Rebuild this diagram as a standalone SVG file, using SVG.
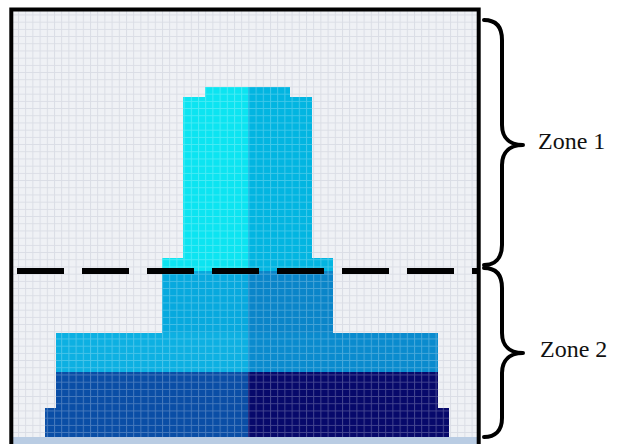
<svg xmlns="http://www.w3.org/2000/svg" width="621" height="444" viewBox="0 0 621 444">
  <defs>
    <pattern id="gridBg" width="7.2" height="7.2" patternUnits="userSpaceOnUse" x="162" y="86.5">
      <path d="M0 0.5H7.2M0.5 0V7.2" stroke="#dadde5" stroke-width="1" fill="none"/>
    </pattern>
    <pattern id="gridFg" width="7.2" height="7.2" patternUnits="userSpaceOnUse" x="162" y="86.5">
      <path d="M0 0.5H7.2M0.5 0V7.2" stroke="#ffffff" stroke-opacity="0.25" stroke-width="1" fill="none"/>
    </pattern>
    <clipPath id="towerClip">
      <rect x="205" y="87" width="85" height="10"/>
      <rect x="183" y="97" width="129" height="161"/>
      <rect x="162" y="258" width="171" height="75"/>
      <rect x="56" y="333" width="382" height="75"/>
      <rect x="45" y="408" width="404" height="29"/>
    </clipPath>
  </defs>
  <style>
    .cyanL{fill:#0ce4f1}
    .cyanR{fill:#02b5e1}
    .blueL{fill:#07a9de}
    .blueR{fill:#0a85c9}
    .lightL{fill:#0db0e2}
    .lightR{fill:#0a8bce}
    .darkL{fill:#0a4ea6}
    .darkR{fill:#07096b}
    .brace{fill:none;stroke:#000;stroke-width:4;stroke-linecap:round;stroke-linejoin:round}
    .lbl{font-family:"Liberation Serif",Georgia,serif;font-size:24px;fill:#111}
  </style>

  <g id="background">
    <rect x="13" y="11" width="464" height="426" fill="#eff1f5"/>
    <rect x="13" y="11" width="464" height="426" fill="url(#gridBg)"/>
    <rect x="13" y="437" width="464" height="7" fill="#b9cce3"/>
  </g>

  <g id="tower">
    <rect class="cyanL" x="205" y="87" width="43" height="10"/>
    <rect class="cyanR" x="248" y="87" width="42" height="10"/>
    <rect class="cyanL" x="183" y="97" width="65" height="161"/>
    <rect class="cyanR" x="248" y="97" width="64" height="161"/>
    <rect class="cyanL" x="162" y="258" width="86" height="13"/>
    <rect class="cyanR" x="248" y="258" width="85" height="13"/>
    <rect class="blueL" x="162" y="271" width="86" height="62"/>
    <rect class="blueR" x="248" y="271" width="85" height="62"/>
    <rect class="lightL" x="56" y="333" width="192" height="39"/>
    <rect class="lightR" x="248" y="333" width="190" height="39"/>
    <rect class="darkL" x="56" y="372" width="192" height="36"/>
    <rect class="darkR" x="248" y="372" width="190" height="36"/>
    <rect class="darkL" x="45" y="408" width="203" height="29"/>
    <rect class="darkR" x="248" y="408" width="201" height="29"/>
    <rect x="13" y="11" width="464" height="426" fill="url(#gridFg)" clip-path="url(#towerClip)"/>
  </g>

  <g id="divider">
    <path d="M17 271H477" stroke="#000" stroke-width="6" stroke-dasharray="47 18" fill="none"/>
  </g>

  <g id="frame">
    <rect x="11.3" y="9.5" width="467.4" height="450" fill="none" stroke="#000" stroke-width="4"/>
  </g>

  <g id="connectors">
    <path class="brace" d="M484 20C495 20 502 26 502 40V125C502 138 510 145 523 145C510 145 502 152 502 165V245C502 258 495 265 484 265"/>
    <path class="brace" d="M484 268C495 268 502 274 502 288V333C502 346 510 353 523 353C510 353 502 360 502 373V418C502 431 495 437 484 437"/>
  </g>

  <g id="zone1">
    <text class="lbl" x="538" y="149">Zone 1</text>
  </g>
  <g id="zone2">
    <text class="lbl" x="540" y="357">Zone 2</text>
  </g>
</svg>
